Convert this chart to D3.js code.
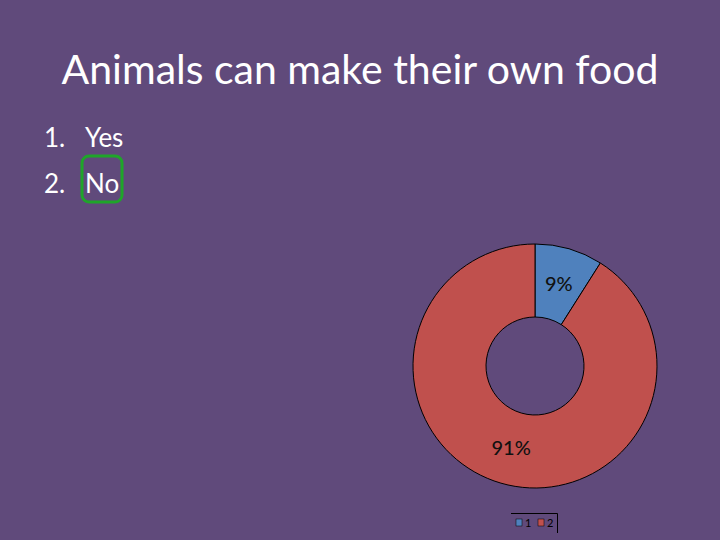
<!DOCTYPE html>
<html>
<head>
<meta charset="utf-8">
<script src="https://cdn.jsdelivr.net/npm/d3@7"></script>
<style>
  html, body { margin: 0; padding: 0; background: #604a7b; }
  svg { display: block; }
</style>
</head>
<body>
<div id="plot"></div>
<script>
// Chart data
let categories = ['1', '2']
let values = [9, 91]
let sliceLabels = ['9%', '91%']
let colors = ['#4f81bd', '#c0504d']
let listItems = ['Yes', 'No']

let width = 720
let height = 540

let svg = d3.select('#plot')
  .append('svg')
  .attr('width', width)
  .attr('height', height)

svg.append('rect')
  .attr('width', width)
  .attr('height', height)
  .style('fill', '#604a7b')

// Title
svg.append('text')
  .attr('x', 360)
  .attr('y', 84)
  .attr('text-anchor', 'middle')
  .style('font-family', 'Lato, "Open Sans", sans-serif')
  .style('font-size', '41px')
  .style('fill', '#ffffff')
  .text('Animals can make their own food')

// Numbered list
let list = svg.append('g')
listItems.forEach(function(d, i) {
  let y = 147 + i * 46
  list.append('text')
    .attr('x', 44)
    .attr('y', y)
    .style('font-family', 'Lato, "Open Sans", sans-serif')
    .style('font-size', '26px')
    .style('fill', '#ffffff')
    .text((i + 1) + '.')
  list.append('text')
    .attr('x', 85)
    .attr('y', y)
    .style('font-family', 'Lato, "Open Sans", sans-serif')
    .style('font-size', '26px')
    .style('fill', '#ffffff')
    .text(d)
})

// Highlight the correct answer
svg.append('rect')
  .attr('x', 82)
  .attr('y', 156)
  .attr('width', 40)
  .attr('height', 46)
  .attr('rx', 7)
  .style('fill', 'none')
  .style('stroke', '#1fa52a')
  .style('stroke-width', 3)

// Donut
let cx = 535, cy = 366
let outerR = 122, innerR = 49

let pie = d3.pie().sort(null).value(function(d) { return d })
let arc = d3.arc().innerRadius(innerR).outerRadius(outerR)
let labelArc = d3.arc().innerRadius(innerR).outerRadius(outerR)

let donut = svg.append('g')
  .attr('transform', `translate(${cx},${cy})`)

let arcs = pie(values)

donut.selectAll('path')
  .data(arcs)
  .enter().append('path')
  .attr('d', arc)
  .style('fill', function(d, i) { return colors[i] })
  .style('stroke', '#000000')
  .style('stroke-width', 1)

donut.selectAll('text')
  .data(arcs)
  .enter().append('text')
  .attr('transform', function(d) { return `translate(${labelArc.centroid(d)})` })
  .attr('text-anchor', 'middle')
  .attr('dy', '0.35em')
  .style('font-family', 'Lato, "Open Sans", sans-serif')
  .style('font-size', '20px')
  .style('font-weight', 500)
  .style('fill', '#111111')
  .text(function(d, i) { return sliceLabels[i] })

// Legend
let legend = svg.append('g')
  .attr('transform', 'translate(511,513)')

legend.append('path')
  .attr('d', 'M0,0.5H46.5V20')
  .style('fill', 'none')
  .style('stroke', '#000000')
  .style('stroke-width', 1)

categories.forEach(function(c, i) {
  let x = 5 + i * 22
  legend.append('rect')
    .attr('x', x)
    .attr('y', 6)
    .attr('width', 6)
    .attr('height', 7)
    .style('fill', colors[i])
    .style('stroke', '#000000')
    .style('stroke-width', 0.5)
  legend.append('text')
    .attr('x', x + 9)
    .attr('y', 14)
    .style('font-family', 'Lato, "Open Sans", sans-serif')
    .style('font-size', '11px')
    .style('fill', '#000000')
    .text(c)
})
</script>
</body>
</html>
